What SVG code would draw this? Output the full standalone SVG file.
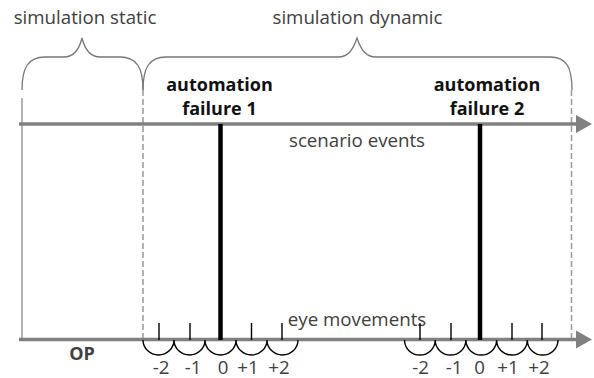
<svg xmlns="http://www.w3.org/2000/svg" width="594" height="378" viewBox="0 0 594 378">
<style>
text{font-family:"Open Sans","Liberation Sans",sans-serif;text-anchor:middle}
.lbl{font-size:18.7px;fill:#404040}
.bold{font-size:18px;font-weight:bold;fill:#111}
.op{font-size:18px;font-weight:bold;fill:#404040}
.axis{stroke:#808080;stroke-width:3.5;fill:none}
.head{fill:#808080}
.brace{stroke:#777;stroke-width:1.3;fill:none}
.dash{stroke:#999;stroke-width:1.5;stroke-dasharray:6 3;fill:none}
.solid{stroke:#999;stroke-width:1.5;fill:none}
.event{stroke:#000;stroke-width:4.5}
.tick{stroke:#000;stroke-width:1.4;fill:none}
</style>
<rect width="594" height="378" fill="#fff"/>
<g id="phase-static">
<path class="brace" d="M22,90 C22,68 28,57 45,57 L64,57 C74,57 79,50 82,38 C85,50 90,57 100,57 L120,57 C137,57 143,68 143,90"/>
<text class="lbl" x="85" y="24">simulation static</text>
<line class="solid" x1="22" y1="98" x2="22" y2="340"/>
</g>
<g id="phase-dynamic">
<path class="brace" d="M143,90 C143,68 149,57 166,57 L338,57 C348,57 353,50 357,38 C361,50 366,57 376,57 L550,57 C567,57 572,68 572,90"/>
<text class="lbl" x="357.5" y="24">simulation dynamic</text>
<line class="dash" x1="143" y1="90" x2="143" y2="340"/>
<line class="dash" x1="571.5" y1="90" x2="571.5" y2="340"/>
</g>
<g id="connectors">
<line class="axis" x1="19" y1="124" x2="578" y2="124"/>
<polygon class="head" points="576,115 592,124 576,133"/>
<line class="axis" x1="19" y1="339.5" x2="578" y2="339.5"/>
<polygon class="head" points="576,330.5 592,339.5 576,348.5"/>
</g>
<g id="scenario-events">
<text class="lbl" x="357" y="146.5">scenario events</text>
</g>
<g id="eye-movements">
<text class="lbl" x="357" y="325.5">eye movements</text>
</g>
<g id="failure-1">
<text class="bold" x="219.5" y="90.5">automation</text>
<text class="bold" x="219.5" y="115">failure 1</text>
<line class="event" x1="220.5" y1="124" x2="220.5" y2="340"/>
</g>
<g id="failure-2">
<text class="bold" x="487" y="90.5">automation</text>
<text class="bold" x="487" y="115">failure 2</text>
<line class="event" x1="480" y1="124" x2="480" y2="340"/>
</g>
<g id="op">
<text class="op" x="82" y="360">OP</text>
</g>
<g id="window-1">
<path class="tick" d="M143,340 A15.5,15 0 0 0 174,340 A15.5,15 0 0 0 205,340 A15.5,15 0 0 0 236,340 A15.5,15 0 0 0 267,340 A15.5,15 0 0 0 298,340"/>
<path class="tick" d="M159,323V340M190,323V340M251.5,323V340M282,323V340"/>
<text class="lbl" x="161" y="374">-2</text>
<text class="lbl" x="193" y="374">-1</text>
<text class="lbl" x="223" y="374">0</text>
<text class="lbl" x="248" y="374">+1</text>
<text class="lbl" x="279" y="374">+2</text>
</g>
<g id="window-2">
<path class="tick" d="M404.5,340 A15.3,15 0 0 0 435.2,340 A15.3,15 0 0 0 465.9,340 A15.3,15 0 0 0 496.6,340 A15.3,15 0 0 0 527.3,340 A15.3,15 0 0 0 558,340"/>
<path class="tick" d="M420,323V340M451,323V340M512,323V340M542,323V340"/>
<text class="lbl" x="420.5" y="374">-2</text>
<text class="lbl" x="454" y="374">-1</text>
<text class="lbl" x="479.5" y="374">0</text>
<text class="lbl" x="508" y="374">+1</text>
<text class="lbl" x="539" y="374">+2</text>
</g>
</svg>
